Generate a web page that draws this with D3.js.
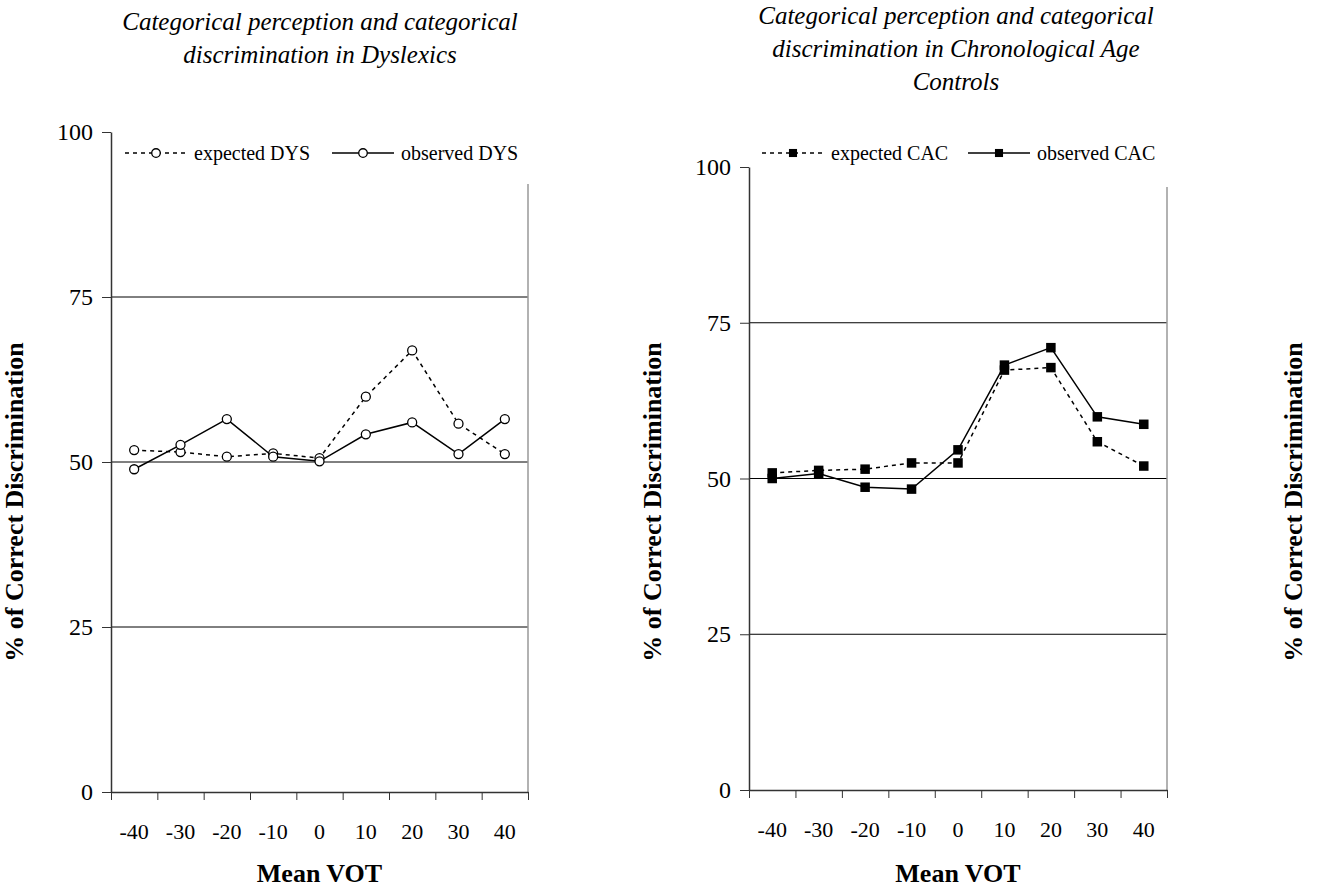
<!DOCTYPE html>
<html>
<head>
<meta charset="utf-8">
<script src="https://cdn.jsdelivr.net/npm/d3@7"></script>
<style>
  body { margin: 0; background: #fff; }
  svg { display: block; font-family: "Liberation Serif", "Times New Roman", serif; }
</style>
</head>
<body>
<div id="chart"></div>
<script>
// categories on the x axis (Mean VOT)
var vot = ["-40", "-30", "-20", "-10", "0", "10", "20", "30", "40"];
var yTicks = [0, 25, 50, 75, 100];

// dyslexics
var expectedDYS = [51.8, 51.5, 50.8, 51.3, 50.6, 59.9, 66.9, 55.8, 51.2];
var observedDYS = [48.9, 52.6, 56.5, 50.8, 50.1, 54.2, 56.0, 51.2, 56.5];

// chronological age controls
var expectedCAC = [50.9, 51.3, 51.5, 52.5, 52.5, 67.4, 67.8, 55.9, 52.0];
var observedCAC = [50.0, 50.8, 48.6, 48.3, 54.6, 68.2, 71.0, 59.9, 58.7];

var svg = d3.select("#chart").append("svg")
    .attr("width", 1318)
    .attr("height", 892);

var Panel = function(opts) {
    var self = this;
    this.opts = opts;
    this.g = svg.append("g");

    this.x = d3.scaleBand()
        .domain(vot)
        .range([opts.left, opts.right])
        .paddingInner(0);
    this.xi = d3.scaleLinear()
        .domain([0, vot.length])
        .range([opts.left, opts.right]);
    this.y = d3.scaleLinear()
        .domain([0, 100])
        .range([opts.bottom, opts.top]);

    self.draw();
}

Panel.prototype.draw = function() {
    var self = this, o = this.opts, g = this.g;

    // gridlines
    g.selectAll("line.grid").data([25, 50, 75]).enter().append("line")
        .attr("class", "grid")
        .attr("x1", o.left).attr("x2", o.right)
        .attr("y1", function(d) { return self.y(d); })
        .attr("y2", function(d) { return self.y(d); })
        .attr("stroke", "#000").attr("stroke-width", 1);

    // right edge of plot area
    g.append("line")
        .attr("x1", o.right).attr("x2", o.right)
        .attr("y1", o.borderTop).attr("y2", o.bottom)
        .attr("stroke", "#999").attr("stroke-width", 1.5);

    // y axis
    var ya = g.append("g")
        .attr("transform", "translate(" + o.left + ",0)")
        .call(d3.axisLeft(this.y).tickValues(yTicks).tickSize(9).tickPadding(9).tickSizeOuter(0));
    ya.select(".domain").attr("stroke", "#333").attr("stroke-width", 1.5);
    ya.selectAll(".tick line").attr("stroke", "#333");
    ya.selectAll("text").attr("font-size", 24).attr("font-family", "Liberation Serif").attr("fill", "#000");

    // x axis: labels in the middle of each category, ticks between them
    var xl = g.append("g")
        .attr("transform", "translate(0," + o.bottom + ")")
        .call(d3.axisBottom(this.x).tickSize(0).tickPadding(31));
    xl.select(".domain").remove();
    xl.selectAll("text").attr("font-size", 22).attr("font-family", "Liberation Serif").attr("fill", "#000");

    var xt = g.append("g")
        .attr("transform", "translate(0," + o.bottom + ")")
        .call(d3.axisBottom(this.xi).tickValues(d3.range(vot.length + 1)).tickFormat("").tickSize(8).tickSizeOuter(0));
    xt.select(".domain").attr("stroke", "#333").attr("stroke-width", 1.5);
    xt.selectAll(".tick line").attr("stroke", "#333");

    // axis titles
    g.append("text")
        .attr("x", (o.left + o.right) / 2).attr("y", 882)
        .attr("text-anchor", "middle")
        .attr("font-size", 26).attr("font-weight", "bold")
        .text("Mean VOT");
    g.append("text")
        .attr("transform", "translate(" + o.yTitleX + ",502) rotate(-90)")
        .attr("text-anchor", "middle")
        .attr("font-size", 26).attr("font-weight", "bold")
        .text("% of Correct Discrimination");

    // chart title
    g.selectAll("text.title").data(o.title).enter().append("text")
        .attr("class", "title")
        .attr("x", o.titleX)
        .attr("y", function(d, i) { return o.titleY + i * 33; })
        .attr("text-anchor", "middle")
        .attr("font-size", 25).attr("font-style", "italic")
        .text(function(d) { return d; });

    // legend
    var lg = g.append("g");
    lg.append("rect")
        .attr("x", o.left + 3).attr("y", 136)
        .attr("width", o.right - o.left + 10).attr("height", o.borderTop - 137)
        .attr("fill", "#fff");

    o.series.forEach(function(s, i) {
        var lx = o.legendX[i];
        lg.append("line")
            .attr("x1", lx).attr("x2", lx + 62)
            .attr("y1", 153).attr("y2", 153)
            .attr("stroke", "#000").attr("stroke-width", 1.5)
            .attr("stroke-dasharray", s.dash);
        self.marker(lg, lx + 31, 153, o.shape === "circle" ? 0.95 : 0.85);
        lg.append("text")
            .attr("x", lx + 69).attr("y", 160)
            .attr("font-size", 20)
            .text(s.name);
    });

    // lines and markers
    var line = d3.line()
        .x(function(d, i) { return self.x(vot[i]) + self.x.bandwidth() / 2; })
        .y(function(d) { return self.y(d); });

    o.series.forEach(function(s) {
        g.append("path")
            .datum(s.values)
            .attr("d", line)
            .attr("fill", "none")
            .attr("stroke", "#000")
            .attr("stroke-width", 1.5)
            .attr("stroke-dasharray", s.dash);
    });
    o.series.forEach(function(s) {
        s.values.forEach(function(v, i) {
            self.marker(g, self.x(vot[i]) + self.x.bandwidth() / 2, self.y(v), 1);
        });
    });
}

Panel.prototype.marker = function(parent, cx, cy, k) {
    if (this.opts.shape === "circle") {
        parent.append("circle")
            .attr("cx", cx).attr("cy", cy).attr("r", 4.5 * k)
            .attr("fill", "#fff").attr("stroke", "#000").attr("stroke-width", 1.3);
    } else {
        var s = 9.5 * k;
        parent.append("rect")
            .attr("x", cx - s / 2).attr("y", cy - s / 2)
            .attr("width", s).attr("height", s)
            .attr("fill", "#000");
    }
}

new Panel({
    left: 111, right: 528, top: 132, bottom: 792, borderTop: 184,
    yTitleX: 23, titleX: 320, titleY: 30,
    title: ["Categorical perception and categorical", "discrimination in Dyslexics"],
    shape: "circle",
    legendX: [125, 332],
    series: [
        { name: "expected DYS", values: expectedDYS, dash: "4,4" },
        { name: "observed DYS", values: observedDYS, dash: null }
    ]
});

new Panel({
    left: 749, right: 1167, top: 167, bottom: 790, borderTop: 187,
    yTitleX: 661, titleX: 956, titleY: 24,
    title: ["Categorical perception and categorical", "discrimination in Chronological Age", "Controls"],
    shape: "square",
    legendX: [762, 968],
    series: [
        { name: "expected CAC", values: expectedCAC, dash: "4,4" },
        { name: "observed CAC", values: observedCAC, dash: null }
    ]
});

// third chart, cut off at the right edge: only its axis title shows
svg.append("text")
    .attr("transform", "translate(1302,502) rotate(-90)")
    .attr("text-anchor", "middle")
    .attr("font-size", 26).attr("font-weight", "bold")
    .text("% of Correct Discrimination");
</script>
</body>
</html>
